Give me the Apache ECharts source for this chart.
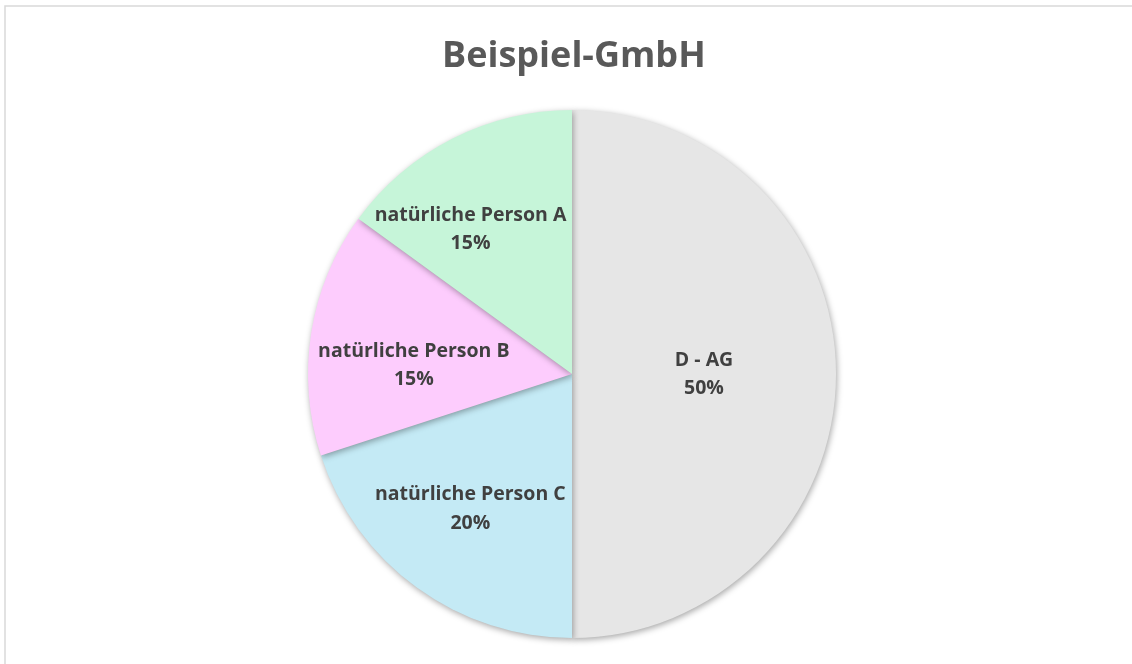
<!DOCTYPE html>
<html>
<head>
<meta charset="utf-8">
<script src="https://cdn.jsdelivr.net/npm/echarts@6/dist/echarts.min.js"></script>
<style>
html,body{margin:0;padding:0;background:#fff;}
#chart{width:1132px;height:664px;}
</style>
</head>
<body>
<div id="chart"></div>
<script>
const titleText = 'Beispiel-GmbH';
const categories = ['D - AG', 'natürliche Person C', 'natürliche Person B', 'natürliche Person A'];
const values = [50, 20, 15, 15];
const colors = ['#e6e6e6', '#c4eaf5', '#fdccfd', '#c6f5d9'];
// label placement (angle clockwise from 12 o'clock in degrees, fraction of radius)
const labelPolar = [[90, 0.5], [217, 0.64], [273, 0.6], [325, 0.67]];

const cx = 572, cy = 374, R = 264;

const chart = echarts.init(document.getElementById('chart'), null, {renderer: 'canvas'});
chart.setOption({
  animation: false,
  backgroundColor: '#ffffff',
  title: {
    text: titleText,
    left: 437,
    top: 34,
    textStyle: {fontFamily: 'Open Sans', fontWeight: 'bold', fontSize: 36, color: '#595959'}
  },
  graphic: [{
    type: 'rect',
    shape: {x: 5, y: 6, width: 1200, height: 700},
    style: {fill: 'none', stroke: '#d9d9d9', lineWidth: 1.5},
    silent: true
  }],
  series: [{
    type: 'pie',
    center: [cx, cy],
    radius: [0, R],
    startAngle: 90,
    clockwise: true,
    data: categories.map((c, i) => ({name: c, value: values[i], itemStyle: {color: colors[i]}})),
    itemStyle: {
      borderWidth: 0,
      shadowColor: 'rgba(0,0,0,0.35)',
      shadowBlur: 6,
      shadowOffsetX: 1,
      shadowOffsetY: 2
    },
    emphasis: {disabled: true},
    label: {
      show: true,
      position: 'inside',
      formatter: p => p.name + '\n' + Math.round(p.percent) + '%',
      fontFamily: 'Open Sans',
      fontWeight: 'bold',
      fontSize: 19.5,
      lineHeight: 28,
      color: '#404040',
      align: 'center'
    },
    labelLine: {show: false},
    labelLayout: function (params) {
      const lp = labelPolar[params.dataIndex];
      const a = lp[0] * Math.PI / 180;
      return {
        x: cx + lp[1] * R * Math.sin(a),
        y: cy - lp[1] * R * Math.cos(a),
        align: 'center',
        verticalAlign: 'middle'
      };
    }
  }]
});
</script>
</body>
</html>
